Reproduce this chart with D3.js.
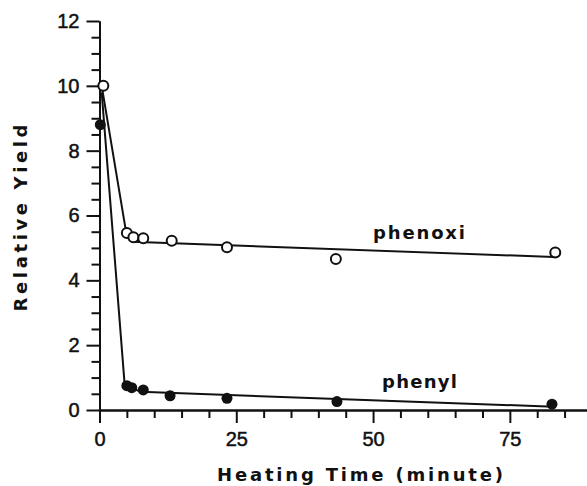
<!DOCTYPE html>
<html><head><meta charset="utf-8">
<script src="https://cdn.jsdelivr.net/npm/d3@7"></script>
<style>body{margin:0;background:#fff}svg{display:block}</style>
</head><body><svg id="c" width="587" height="486"></svg>
<script>
// Measured points
const phenoxiTime = [0.7, 5.0, 6.2, 8.0, 13.2, 23.3, 43.2, 83.3];
const phenoxiYield = [10.0, 5.46, 5.33, 5.30, 5.22, 5.02, 4.66, 4.86];
const phenylTime = [0.15, 5.0, 5.9, 8.0, 12.9, 23.3, 43.4, 82.7];
const phenylYield = [8.8, 0.75, 0.69, 0.62, 0.44, 0.36, 0.26, 0.18];
// Drawn trend lines
const phenoxiLineTime = [0.5, 5.0, 6.0, 83.0];
const phenoxiLineYield = [9.9, 5.35, 5.19, 4.72];
const phenylLineTime = [0.4, 4.6, 7.5, 83.0];
const phenylLineYield = [9.8, 0.78, 0.56, 0.1];
// Ticks
const xMajorTicks = [0, 25, 50, 75];
const xMinorTicks = [5, 10, 15, 20, 30, 35, 40, 45, 55, 60, 65, 70, 80, 85];
const yMajorTicks = [0, 2, 4, 6, 8, 10, 12];
const yMinorTicks = [0.5,1,1.5,2.5,3,3.5,4.5,5,5.5,6.5,7,7.5,8.5,9,9.5,10.5,11,11.5];
const xTitle = "Heating Time (minute)";
const yTitle = "Relative Yield";

const svg = d3.select("#c");
const x = d3.scaleLinear().domain([0, 89.1]).range([99.5, 587]);
const y = d3.scaleLinear().domain([0, 12]).range([410, 21]);

const numFont = "'Liberation Sans', Arial, sans-serif";
const boldFont = "'DejaVu Sans', sans-serif";

function styleAxis(g) {
  g.select(".domain").attr("stroke", "#111").attr("stroke-width", 2);
  g.selectAll(".tick line").attr("stroke", "#111").attr("stroke-width", 2);
  g.selectAll(".tick text").attr("fill", "#111").attr("font-family", numFont).attr("font-size", 20)
    .attr("stroke", "#111").attr("stroke-width", 0.5);
}

// y axis
const gy = svg.append("g").attr("transform", `translate(${x(0)},0)`)
  .call(d3.axisLeft(y).tickValues(yMajorTicks).tickSize(13).tickSizeOuter(0).tickPadding(7).tickFormat(d3.format("d")));
styleAxis(gy);
const gy2 = svg.append("g").attr("transform", `translate(${x(0)},0)`)
  .call(d3.axisLeft(y).tickValues(yMinorTicks).tickSize(8).tickSizeOuter(0).tickFormat(""));
styleAxis(gy2);

// x axis
const gx = svg.append("g").attr("transform", `translate(0,${y(0)})`)
  .call(d3.axisBottom(x).tickValues(xMajorTicks).tickSize(13).tickSizeOuter(0).tickPadding(9).tickFormat(d3.format("d")));
styleAxis(gx);
const gx2 = svg.append("g").attr("transform", `translate(0,${y(0)})`)
  .call(d3.axisBottom(x).tickValues(xMinorTicks).tickSize(8).tickSizeOuter(0).tickFormat(""));
styleAxis(gx2);

// lines
const line = d3.line().x(d => x(d[0])).y(d => y(d[1]));
svg.append("path").datum(phenoxiLineTime.map((t, i) => [t, phenoxiLineYield[i]]))
  .attr("d", line).attr("fill", "none").attr("stroke", "#111").attr("stroke-width", 2);
svg.append("path").datum(phenylLineTime.map((t, i) => [t, phenylLineYield[i]]))
  .attr("d", line).attr("fill", "none").attr("stroke", "#111").attr("stroke-width", 2);

// points
svg.append("g").selectAll("circle").data(phenylTime.map((t, i) => [t, phenylYield[i]]))
  .join("circle").attr("cx", d => x(d[0])).attr("cy", d => y(d[1])).attr("r", 5.5).attr("fill", "#111");
svg.append("g").selectAll("circle").data(phenoxiTime.map((t, i) => [t, phenoxiYield[i]]))
  .join("circle").attr("cx", d => x(d[0])).attr("cy", d => y(d[1])).attr("r", 5)
  .attr("fill", "#fff").attr("stroke", "#111").attr("stroke-width", 2);

// series labels
svg.append("text").attr("x", 373).attr("y", 239).text("phenoxi")
  .attr("font-family", boldFont).attr("font-weight", "bold").attr("font-size", 18)
  .attr("textLength", 92).attr("lengthAdjust", "spacing").attr("fill", "#111");
svg.append("text").attr("x", 382).attr("y", 388).text("phenyl")
  .attr("font-family", boldFont).attr("font-weight", "bold").attr("font-size", 18)
  .attr("textLength", 75).attr("lengthAdjust", "spacing").attr("fill", "#111");

// titles
svg.append("text").attr("x", 217).attr("y", 481).text(xTitle)
  .attr("font-family", boldFont).attr("font-weight", "bold").attr("font-size", 18)
  .attr("textLength", 286).attr("lengthAdjust", "spacing").attr("fill", "#111");
svg.append("text").attr("transform", "translate(27,218) rotate(-90)").attr("text-anchor", "middle").text(yTitle)
  .attr("font-family", boldFont).attr("font-weight", "bold").attr("font-size", 18)
  .attr("textLength", 187).attr("lengthAdjust", "spacing").attr("fill", "#111");
</script></body></html>
